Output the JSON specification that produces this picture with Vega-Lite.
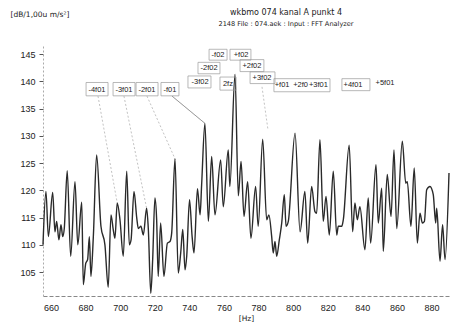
{
  "$schema": "https://vega.github.io/schema/vega-lite/v6.json",
  "width": 406,
  "height": 250,
  "autosize": "none",
  "padding": {"left": 43, "top": 46, "right": 5, "bottom": 30},
  "background": "#ffffff",
  "title": {
    "text": "wkbmo 074 kanal A punkt 4",
    "subtitle": "2148 File : 074.aek : Input : FFT Analyzer",
    "font": "DejaVu Sans",
    "fontSize": 8,
    "fontWeight": "normal",
    "color": "#222",
    "subtitleFont": "DejaVu Sans",
    "subtitleFontSize": 6.6,
    "subtitleColor": "#222",
    "subtitlePadding": 4,
    "anchor": "middle",
    "dx": 40,
    "offset": -18
  },
  "datasets": {
    "spec": [
      {"f":655.4,"db":110},{"f":657.1,"db":119.8},{"f":658.5,"db":111.5},{"f":661.0,"db":119.6},{"f":662.3,"db":112.4},{"f":663.3,"db":114.3},{"f":664.6,"db":110.9},{"f":665.8,"db":113.7},{"f":666.8,"db":111.5},{"f":667.7,"db":113},{"f":669.4,"db":123.6},{"f":671.4,"db":107.9},{"f":673.9,"db":121.6},{"f":675.5,"db":110},{"f":677.8,"db":117.8},{"f":678.7,"db":102.7},{"f":680.1,"db":106.6},{"f":681.2,"db":107.3},{"f":682.2,"db":111.5},{"f":683.1,"db":104.2},{"f":684.5,"db":111.5},{"f":686.4,"db":126.5},{"f":688.9,"db":113.4},{"f":691.2,"db":110},{"f":693.1,"db":102.2},{"f":694.7,"db":115.5},{"f":696.0,"db":112.8},{"f":697.0,"db":111.2},{"f":698.3,"db":117.7},{"f":699.9,"db":114.6},{"f":701.8,"db":107.9},{"f":703.8,"db":123.5},{"f":705.3,"db":110},{"f":706.3,"db":110.9},{"f":708.0,"db":119.8},{"f":709.6,"db":114.9},{"f":710.5,"db":113},{"f":712.0,"db":113.4},{"f":713.4,"db":111.8},{"f":715.3,"db":116.7},{"f":716.3,"db":112.8},{"f":717.7,"db":101.1},{"f":718.8,"db":107.3},{"f":720.1,"db":118.6},{"f":721.1,"db":114.6},{"f":722.0,"db":104.2},{"f":723.4,"db":114},{"f":725.3,"db":104.2},{"f":727.3,"db":110.3},{"f":728.8,"db":110.6},{"f":729.8,"db":112.2},{"f":731.7,"db":125.8},{"f":733.6,"db":104.8},{"f":735.0,"db":108.5},{"f":736.2,"db":112.8},{"f":737.5,"db":105.4},{"f":738.5,"db":108},{"f":740.1,"db":118.3},{"f":741.6,"db":111.5},{"f":742.7,"db":108.5},{"f":744.7,"db":120.3},{"f":746.2,"db":115.5},{"f":747.1,"db":121},{"f":749.0,"db":132.3},{"f":751.0,"db":114.3},{"f":752.9,"db":126.2},{"f":754.8,"db":115.5},{"f":758.1,"db":125.6},{"f":759.6,"db":117},{"f":762.5,"db":127.4},{"f":763.4,"db":120.7},{"f":766.4,"db":141.3},{"f":768.3,"db":119},{"f":769.9,"db":125.3},{"f":771.6,"db":115.2},{"f":773.7,"db":121.6},{"f":775.6,"db":111.2},{"f":778.3,"db":120.7},{"f":779.8,"db":113.4},{"f":782.4,"db":129.4},{"f":784.7,"db":114.6},{"f":786.0,"db":115.5},{"f":787.6,"db":111.5},{"f":788.5,"db":108.5},{"f":789.5,"db":110.6},{"f":790.5,"db":107.9},{"f":792.0,"db":110.9},{"f":793.4,"db":114},{"f":794.9,"db":119.2},{"f":795.9,"db":113.4},{"f":797.2,"db":114.3},{"f":801.1,"db":130.5},{"f":804.0,"db":112.4},{"f":806.8,"db":119.8},{"f":808.4,"db":110.3},{"f":810.7,"db":120.7},{"f":812.6,"db":116.1},{"f":813.6,"db":115.8},{"f":815.5,"db":129.3},{"f":817.4,"db":114.3},{"f":819.0,"db":118.9},{"f":820.9,"db":111.8},{"f":823.2,"db":123.5},{"f":825.2,"db":111.8},{"f":826.1,"db":113.4},{"f":828.1,"db":113.4},{"f":829.0,"db":114.6},{"f":832.4,"db":128.3},{"f":834.4,"db":112.4},{"f":835.7,"db":117.7},{"f":837.1,"db":114.6},{"f":838.6,"db":117},{"f":841.5,"db":109.1},{"f":843.4,"db":118.6},{"f":844.8,"db":110.3},{"f":847.9,"db":124.7},{"f":849.2,"db":114},{"f":851.2,"db":120.4},{"f":852.1,"db":108.8},{"f":854.4,"db":122.9},{"f":856.6,"db":115.2},{"f":858.3,"db":127.4},{"f":859.9,"db":113},{"f":863.1,"db":129},{"f":865.1,"db":121.3},{"f":866.0,"db":121.6},{"f":868.1,"db":113.4},{"f":870.0,"db":124.1},{"f":871.8,"db":110.3},{"f":873.3,"db":115.8},{"f":874.7,"db":114},{"f":875.9,"db":114.3},{"f":877.2,"db":120.1},{"f":879.1,"db":120.7},{"f":881.0,"db":119.2},{"f":882.4,"db":114},{"f":883.0,"db":116.7},{"f":884.9,"db":107},{"f":886.4,"db":113.7},{"f":887.8,"db":107.3},{"f":890.1,"db":123.2}
    ],
    "labels": [
      {"t":"-4f01","f":686.6,"db":138.5},
      {"t":"-3f01","f":702.2,"db":138.5},
      {"t":"-2f01","f":715.5,"db":138.5},
      {"t":"-f01","f":728.8,"db":138.5},
      {"t":"-3f02","f":746.2,"db":139.9},
      {"t":"-2f02","f":751.4,"db":142.5},
      {"t":"-f02","f":756.6,"db":144.9},
      {"t":"+f02","f":769.9,"db":144.9},
      {"t":"+2f02","f":776.2,"db":142.9},
      {"t":"2fz","f":762.3,"db":139.5},
      {"t":"+3f02","f":782.0,"db":140.6},
      {"t":"+f01","f":793.6,"db":139.4},
      {"t":"+2f0","f":804.3,"db":139.4},
      {"t":"+3f01","f":814.6,"db":139.4},
      {"t":"+4f01","f":834.6,"db":139.4},
      {"t":"+5f01","f":853.1,"db":139.7}
    ],
    "boxes": [
      {"x1":680.3,"x2":693.0,"y1":137.35,"y2":139.8},
      {"x1":695.9,"x2":708.6,"y1":137.35,"y2":139.8},
      {"x1":709.2,"x2":721.9,"y1":137.35,"y2":139.8},
      {"x1":723.6,"x2":734.0,"y1":137.35,"y2":139.8},
      {"x1":739.2,"x2":752.5,"y1":138.8,"y2":141.0},
      {"x1":745.0,"x2":757.7,"y1":141.4,"y2":143.5},
      {"x1":751.4,"x2":761.8,"y1":143.9,"y2":145.9},
      {"x1":763.5,"x2":775.6,"y1":143.9,"y2":145.9},
      {"x1":769.3,"x2":783.1,"y1":141.8,"y2":144.0},
      {"x1":757.7,"x2":767.0,"y1":138.4,"y2":140.8},
      {"x1":775.1,"x2":789.5,"y1":139.6,"y2":141.75},
      {"x1":788.9,"x2":821.3,"y1":138.1,"y2":140.5},
      {"x1":828.2,"x2":844.4,"y1":138.3,"y2":140.5}
    ],
    "leaders": [
      {"x1":687.2,"y1":137.3,"x2":698.3,"y2":117.7,"k":"faint"},
      {"x1":702.2,"y1":137.3,"x2":715.3,"y2":116.7,"k":"faint"},
      {"x1":715.5,"y1":137.3,"x2":731.7,"y2":125.8,"k":"faint"},
      {"x1":730.0,"y1":137.3,"x2":749.0,"y2":132.3,"k":"solid"},
      {"x1":782.0,"y1":139.0,"x2":785.5,"y2":131.0,"k":"faint"}
    ]
  },
  "layer": [
    {
      "data": {"name": "spec"},
      "mark": {"type": "line", "color": "#2a2a2a", "strokeWidth": 1.4, "interpolate": "monotone"},
      "encoding": {
        "x": {
          "field": "f", "type": "quantitative",
          "scale": {"domain": [655.4, 890.1], "nice": false, "zero": false},
          "axis": {
            "tickCount": 12,
            "labelOverlap": false, "labelFlush": false, "labelBound": false,
            "title": "[Hz]",
            "titleFont": "DejaVu Sans", "titleFontSize": 7.5, "titleFontWeight": "normal", "titleColor": "#222", "titlePadding": 2,
            "labelFont": "Liberation Sans", "labelFontSize": 9, "labelColor": "#222", "labelPadding": 7,
            "ticks": false, "grid": false,
            "domainColor": "#888", "domainDash": [4, 2], "domainWidth": 1
          }
        },
        "y": {
          "field": "db", "type": "quantitative",
          "scale": {"domain": [100.6, 146.5], "nice": false, "zero": false},
          "axis": {
            "tickCount": 10,
            "labelOverlap": false, "labelFlush": false, "labelBound": false,
            "title": "[dB/1,00u m/s²]",
            "titleAngle": 0, "titleX": -33, "titleY": -32, "titleAlign": "left", "titleBaseline": "middle",
            "titleFont": "DejaVu Sans", "titleFontSize": 7.5, "titleFontWeight": "normal", "titleColor": "#222",
            "labelFont": "Liberation Sans", "labelFontSize": 9, "labelColor": "#222", "labelPadding": 4,
            "tickSize": 4, "tickColor": "#555", "grid": false,
            "domainColor": "#aaa", "domainDash": [2, 2], "domainWidth": 1
          }
        }
      }
    },
    {
      "data": {"name": "leaders"},
      "mark": {"type": "rule", "strokeWidth": 0.7},
      "encoding": {
        "x": {"field": "x1", "type": "quantitative"},
        "y": {"field": "y1", "type": "quantitative"},
        "x2": {"field": "x2"},
        "y2": {"field": "y2"},
        "color": {"field": "k", "type": "nominal", "scale": {"domain": ["faint", "solid"], "range": ["#a8a8a8", "#555555"]}, "legend": null},
        "strokeDash": {"field": "k", "type": "nominal", "scale": {"domain": ["faint", "solid"], "range": [[2, 2], [1, 0]]}, "legend": null}
      }
    },
    {
      "data": {"name": "boxes"},
      "mark": {"type": "rect", "fill": null, "stroke": "#9a9a9a", "strokeWidth": 0.7},
      "encoding": {
        "x": {"field": "x1", "type": "quantitative"},
        "x2": {"field": "x2"},
        "y": {"field": "y1", "type": "quantitative"},
        "y2": {"field": "y2"}
      }
    },
    {
      "data": {"name": "labels"},
      "mark": {"type": "text", "font": "Liberation Sans", "fontSize": 7.5, "color": "#222", "align": "center", "baseline": "middle"},
      "encoding": {
        "x": {"field": "f", "type": "quantitative"},
        "y": {"field": "db", "type": "quantitative"},
        "text": {"field": "t"}
      }
    }
  ],
  "config": {"view": {"stroke": null}}
}
